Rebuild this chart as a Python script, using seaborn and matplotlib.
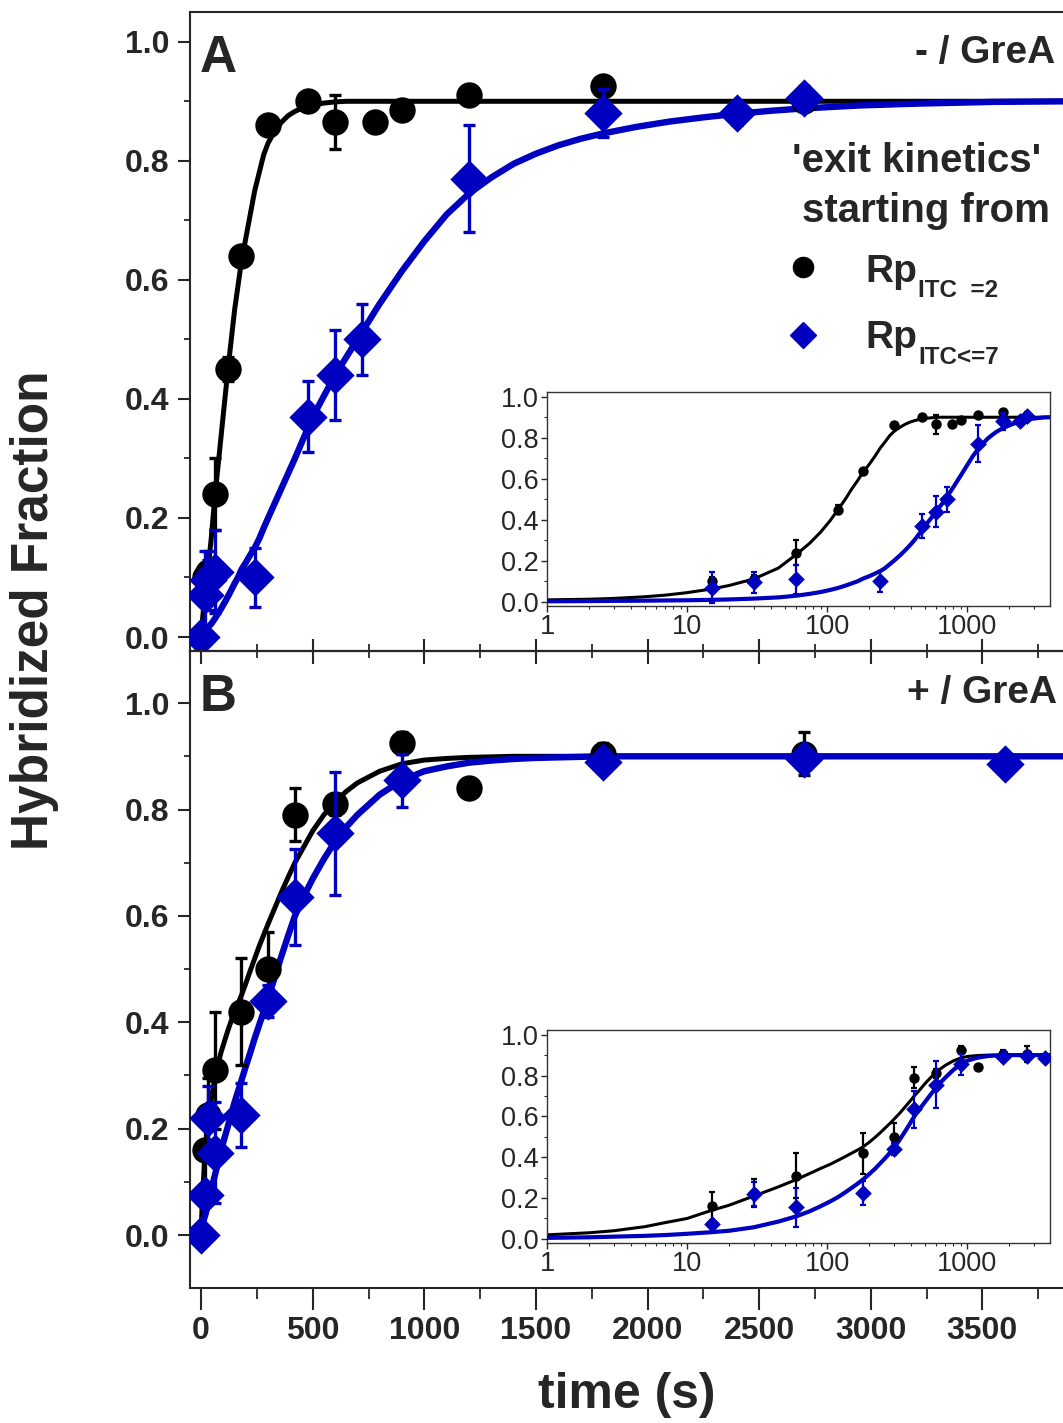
import numpy as np
import matplotlib
matplotlib.use("Agg")
import matplotlib.pyplot as plt
import matplotlib.ticker as mticker
import seaborn as sns

sns.set_style("ticks")
plt.rcParams['font.family'] = ['Liberation Sans', 'DejaVu Sans']
plt.rcParams['font.weight'] = 'bold'

BLUE = '#0000c0'

# ---- panel A (- GreA) measured points
t_A_black = [15, 30, 60, 120, 180, 300, 480, 600, 780, 900, 1200, 1800, 2700]
y_A_black = [0.10, 0.11, 0.24, 0.45, 0.64, 0.86, 0.90, 0.865, 0.865, 0.885, 0.91, 0.925, 0.90]
e_A_black = [0.02, 0.02, 0.06, 0.02, 0.01, 0.01, 0.01, 0.045, 0.01, 0.01, 0.01, 0.01, 0.01]

t_A_blue = [0, 15, 30, 60, 240, 480, 600, 720, 1200, 1800, 2400, 2700]
y_A_blue = [0.0, 0.07, 0.095, 0.11, 0.10, 0.37, 0.44, 0.50, 0.77, 0.88, 0.88, 0.905]
e_A_blue = [0.0, 0.075, 0.05, 0.07, 0.05, 0.06, 0.075, 0.06, 0.09, 0.04, 0.02, 0.02]

# ---- panel B (+ GreA) measured points
t_B_black = [15, 30, 60, 180, 300, 420, 600, 900, 1200, 1800, 2700]
y_B_black = [0.16, 0.225, 0.31, 0.42, 0.50, 0.79, 0.81, 0.925, 0.84, 0.905, 0.905]
e_B_black = [0.07, 0.07, 0.11, 0.10, 0.07, 0.05, 0.02, 0.02, 0.01, 0.02, 0.04]

t_B_blue = [0, 15, 30, 60, 180, 300, 420, 600, 900, 1800, 2700, 3600]
y_B_blue = [0.0, 0.075, 0.22, 0.155, 0.225, 0.44, 0.635, 0.755, 0.855, 0.89, 0.895, 0.885]
e_B_blue = [0.0, 0.02, 0.06, 0.095, 0.06, 0.03, 0.09, 0.115, 0.05, 0.01, 0.01, 0.01]

# ---- fitted curves
fit_t = [0, 1, 2, 3, 5, 7, 10, 15, 20, 30, 45, 60, 75, 90, 105, 120, 135, 150, 165, 180,
         200, 220, 240, 260, 280, 300, 330, 360, 390, 420, 460, 500, 550, 600, 650, 700,
         800, 900, 1000, 1100, 1200, 1300, 1400, 1500, 1600, 1700, 1800, 1950, 2100, 2250,
         2400, 2550, 2700, 2950, 3200, 3550, 3900]
fit_A_black = [0.0, 0.01, 0.013, 0.017, 0.025, 0.033, 0.045, 0.063, 0.08, 0.112, 0.165, 0.23,
               0.285, 0.34, 0.395, 0.45, 0.50, 0.55, 0.59, 0.63,
               0.67, 0.71, 0.75, 0.78, 0.81, 0.83, 0.85, 0.865, 0.876, 0.883, 0.89, 0.894,
               0.897, 0.899, 0.9, 0.9,
               0.9, 0.9, 0.9, 0.9, 0.9, 0.9, 0.9, 0.9, 0.9, 0.9, 0.9, 0.9, 0.9, 0.9,
               0.9, 0.9, 0.9, 0.9, 0.9, 0.9, 0.9]
fit_A_blue = [0.0, 0.003, 0.004, 0.005, 0.006, 0.007, 0.008, 0.01, 0.012, 0.016, 0.022, 0.03,
              0.039, 0.048, 0.058, 0.068, 0.079, 0.09, 0.10, 0.113,
              0.125, 0.138, 0.15, 0.165, 0.183, 0.2, 0.225, 0.25, 0.275, 0.30, 0.335, 0.37,
              0.405, 0.44, 0.47, 0.50,
              0.56, 0.615, 0.665, 0.71, 0.745, 0.772, 0.795, 0.812, 0.826, 0.837, 0.846,
              0.857, 0.866, 0.873,
              0.879, 0.884, 0.888, 0.893, 0.896, 0.899, 0.9]
fit_B_black = [0.0, 0.02, 0.03, 0.04, 0.06, 0.08, 0.1, 0.14, 0.165, 0.21, 0.255, 0.29,
               0.32, 0.345, 0.365, 0.385, 0.403, 0.42, 0.435, 0.45,
               0.473, 0.497, 0.52, 0.543, 0.564, 0.585, 0.615, 0.645, 0.673, 0.70, 0.73, 0.76,
               0.79, 0.815, 0.834, 0.85,
               0.872, 0.886, 0.893, 0.896, 0.898, 0.899, 0.9, 0.9, 0.9, 0.9, 0.9, 0.9, 0.9, 0.9,
               0.9, 0.9, 0.9, 0.9, 0.9, 0.9, 0.9]
fit_B_blue = [0.0, 0.005, 0.008, 0.011, 0.015, 0.019, 0.025, 0.033, 0.04, 0.057, 0.085, 0.11,
              0.135, 0.16, 0.183, 0.205, 0.228, 0.25, 0.27, 0.29,
              0.317, 0.343, 0.37, 0.395, 0.42, 0.445, 0.485, 0.525, 0.563, 0.6, 0.637, 0.67,
              0.707, 0.74, 0.767, 0.79,
              0.828, 0.855, 0.872, 0.881, 0.888, 0.892, 0.895, 0.897, 0.898, 0.899, 0.9,
              0.9, 0.9, 0.9,
              0.9, 0.9, 0.9, 0.9, 0.9, 0.9, 0.9]

x_ticks = [0, 500, 1000, 1500, 2000, 2500, 3000, 3500]
y_ticks = [0.0, 0.2, 0.4, 0.6, 0.8, 1.0]
log_ticks = [1, 10, 100, 1000]

W, H = 1063, 1423
fig = plt.figure(figsize=(W / 100, H / 100), dpi=100)


def box(l, t, r, b):
    return [l / W, 1 - b / H, (r - l) / W, (b - t) / H]


axA = fig.add_axes(box(190, 12, 1075, 651))
axB = fig.add_axes(box(190, 651, 1075, 1288))
insA = fig.add_axes(box(547, 392, 1050, 606))
insB = fig.add_axes(box(547, 1030, 1050, 1243))


def draw(ax, t_k, y_k, e_k, t_b, y_b, e_b, f_k, f_b, small=False, log=False):
    ft = np.array(fit_t)
    fk = np.array(f_k)
    fb = np.array(f_b)
    tk, yk, ek = np.array(t_k), np.array(y_k), np.array(e_k)
    tb, yb, eb = np.array(t_b), np.array(y_b), np.array(e_b)
    if log:
        ft, fk, fb = ft[1:], fk[1:], fb[1:]
        m = tb > 0
        tb, yb, eb = tb[m], yb[m], eb[m]
    lw_k, lw_b = (2.2, 3.0) if small else (3.6, 4.6)
    ms_c, ms_d = (7.5, 8.5) if small else (19, 19.5)
    cap = 2 if small else 4.5
    elw = 1.6 if small else 2.4
    sns.lineplot(x=ft, y=fk, color='black', lw=lw_k, ax=ax, sort=False, estimator=None, zorder=2)
    sns.lineplot(x=ft, y=fb, color=BLUE, lw=lw_b, ax=ax, sort=False, estimator=None, zorder=3)
    ax.errorbar(tk, yk, yerr=ek, fmt='none', ecolor='black', elinewidth=elw,
                capsize=cap, capthick=elw, zorder=4)
    sns.scatterplot(x=tk, y=yk, color='black', marker='o', s=ms_c ** 2, linewidth=0,
                    ax=ax, zorder=5)
    ax.errorbar(tb, yb, yerr=eb, fmt='none', ecolor=BLUE, elinewidth=elw,
                capsize=cap, capthick=elw, zorder=6)
    sns.scatterplot(x=tb, y=yb, color=BLUE, marker='D', s=ms_d ** 2, linewidth=0,
                    ax=ax, zorder=7)


draw(axA, t_A_black, y_A_black, e_A_black, t_A_blue, y_A_blue, e_A_blue, fit_A_black, fit_A_blue)
draw(axB, t_B_black, y_B_black, e_B_black, t_B_blue, y_B_blue, e_B_blue, fit_B_black, fit_B_blue)
draw(insA, t_A_black, y_A_black, e_A_black, t_A_blue, y_A_blue, e_A_blue, fit_A_black, fit_A_blue,
     small=True, log=True)
draw(insB, t_B_black, y_B_black, e_B_black, t_B_blue, y_B_blue, e_B_blue, fit_B_black, fit_B_blue,
     small=True, log=True)

# main axes styling
for ax, ylim in ((axA, (-0.0235, 1.05)), (axB, (-0.0996, 1.098))):
    ax.set_xlim(-50, 3915)
    ax.set_ylim(*ylim)
    ax.set_xticks(x_ticks)
    ax.xaxis.set_minor_locator(mticker.MultipleLocator(250))
    ax.set_yticks(y_ticks)
    ax.yaxis.set_minor_locator(mticker.MultipleLocator(0.1))
    ax.yaxis.set_major_formatter(mticker.FormatStrFormatter('%.1f'))
    ax.set_xlabel('')
    ax.set_ylabel('')
    ax.spines['right'].set_visible(False)
    for s in ax.spines.values():
        s.set_linewidth(1.5)
    ax.tick_params(axis='y', which='major', direction='out', length=9, width=1.5,
                   labelsize=23, pad=6)
    ax.tick_params(axis='y', which='minor', direction='out', length=4, width=1.3)
    ax.patch.set_alpha(0)

axA.tick_params(axis='x', which='major', direction='in', length=9, width=1.5,
                bottom=True, top=False, labelbottom=False)
axA.tick_params(axis='x', which='minor', direction='in', length=5, width=1.3)

axB.tick_params(axis='x', which='major', direction='out', length=16, width=1.5,
                labelsize=23, pad=4)
axB.tick_params(axis='x', which='minor', direction='out', length=8, width=1.3)
topB = axB.secondary_xaxis('top')
topB.set_xticks(x_ticks)
topB.xaxis.set_minor_locator(mticker.MultipleLocator(250))
topB.tick_params(axis='x', which='major', direction='in', length=9, width=1.5, labeltop=False)
topB.tick_params(axis='x', which='minor', direction='in', length=5, width=1.3)
topB.spines['top'].set_linewidth(1.5)

# insets
for ax in (insA, insB):
    ax.set_xscale('log')
    ax.set_xlim(1, 3915)
    ax.set_ylim(-0.02, 1.023)
    ax.set_xticks(log_ticks)
    ax.xaxis.set_major_formatter(mticker.FormatStrFormatter('%g'))
    ax.xaxis.set_minor_locator(mticker.LogLocator(base=10, subs=np.arange(2, 10)))
    ax.xaxis.set_minor_formatter(mticker.NullFormatter())
    ax.set_yticks(y_ticks)
    ax.yaxis.set_minor_locator(mticker.MultipleLocator(0.1))
    ax.yaxis.set_major_formatter(mticker.FormatStrFormatter('%.1f'))
    ax.set_xlabel('')
    ax.set_ylabel('')
    for s in ax.spines.values():
        s.set_linewidth(1.0)
        s.set_color('#333333')
    ax.tick_params(which='major', direction='out', length=4, width=1.0, labelsize=19.5, pad=2)
    ax.tick_params(which='minor', direction='out', length=2.5, width=0.8)
    for lab in ax.get_xticklabels() + ax.get_yticklabels():
        lab.set_fontweight('normal')
    ax.set_facecolor('white')
    ax.set_zorder(10)

# axis titles
fig.text(35 / W, 1 - 610 / H, 'Hybridized Fraction', rotation=90, ha='center', va='center',
         fontsize=37, fontweight='bold')
fig.text(627 / W, 1 - 1395 / H, 'time (s)', ha='center', va='center',
         fontsize=36, fontweight='bold')

# panel annotations
fig.text(200 / W, 1 - 72 / H, 'A', fontsize=37, fontweight='bold', va='baseline')
fig.text(200 / W, 1 - 711 / H, 'B', fontsize=37, fontweight='bold', va='baseline')
fig.text(1055 / W, 1 - 63 / H, '- / GreA', fontsize=28, fontweight='bold', ha='right', va='baseline')
fig.text(1057 / W, 1 - 703 / H, '+ / GreA', fontsize=28, fontweight='bold', ha='right', va='baseline')
fig.text(792 / W, 1 - 172 / H, "'exit kinetics'", fontsize=29, fontweight='bold', va='baseline')
fig.text(802 / W, 1 - 222 / H, 'starting from', fontsize=29, fontweight='bold', va='baseline')

# legend keys
axA.plot([(803 - 190) / 885], [(651 - 267) / 639], transform=axA.transAxes,
         marker='o', ms=14.5, color='black', ls='none', clip_on=False)
axA.plot([(803 - 190) / 885], [(651 - 335) / 639], transform=axA.transAxes,
         marker='D', ms=13.5, color=BLUE, ls='none', clip_on=False)
fig.text(865 / W, 1 - 282 / H, 'Rp', fontsize=28, fontweight='bold', va='baseline')
fig.text(918 / W, 1 - 297 / H, 'ITC  =2', fontsize=17.5, fontweight='bold', va='baseline')
fig.text(865 / W, 1 - 348 / H, 'Rp', fontsize=28, fontweight='bold', va='baseline')
fig.text(918 / W, 1 - 364 / H, 'ITC<=7', fontsize=17.5, fontweight='bold', va='baseline')

fig.savefig('out.png', dpi=100)
